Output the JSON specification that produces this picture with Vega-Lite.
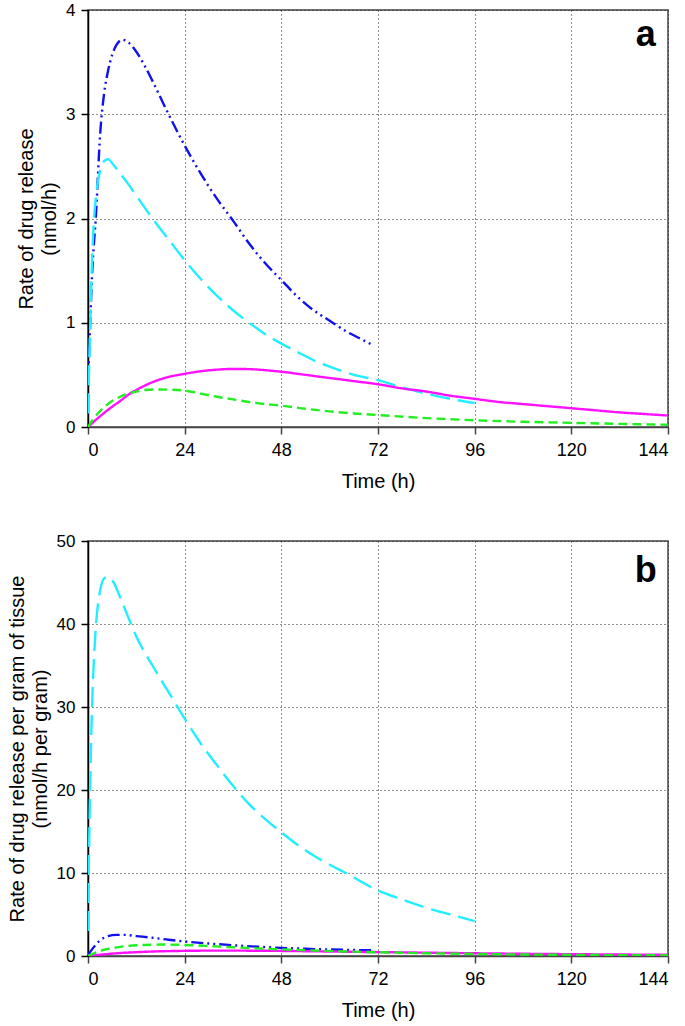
{
  "$schema": "https://vega.github.io/schema/vega-lite/v6.json",
  "padding": {"left": 6, "top": 0, "right": 5, "bottom": 2},
  "background": "white",
  "spacing": 39,
  "config": {
    "font": "Liberation Sans",
    "view": {"stroke": "#444", "strokeWidth": 1.5},
    "axis": {
      "labelFont": "Liberation Sans", "titleFont": "Liberation Sans",
      "labelFontSize": 18, "titleFontSize": 20, "titleFontWeight": "normal",
      "labelColor": "#000", "titleColor": "#000", "format": "d",
      "grid": true, "gridDash": [1, 3], "gridColor": "#222", "gridWidth": 1, "gridOpacity": 1,
      "tickSize": 7, "labelPadding": 6, "domainWidth": 1.5, "tickWidth": 1.5
    },
    "axisX": {"domainColor": "#444", "tickColor": "#444", "titlePadding": 12, "labelPadding": 7},
    "axisY": {"domainColor": "#000", "tickColor": "#000", "titlePadding": 6, "titleLineHeight": 23, "labelFontSize": 17}
  },
  "datasets": {
    "curves": [
      {"panel":"a","series":"B","t":0,"v":0.4},{"panel":"a","series":"B","t":0.5,"v":0.95},{"panel":"a","series":"B","t":1,"v":1.45},{"panel":"a","series":"B","t":2,"v":2.05},{"panel":"a","series":"B","t":3,"v":2.8},{"panel":"a","series":"B","t":4,"v":3.2},{"panel":"a","series":"B","t":5,"v":3.42},{"panel":"a","series":"B","t":6,"v":3.57},{"panel":"a","series":"B","t":7,"v":3.66},{"panel":"a","series":"B","t":8.5,"v":3.715},{"panel":"a","series":"B","t":10,"v":3.69},{"panel":"a","series":"B","t":12,"v":3.6},{"panel":"a","series":"B","t":14,"v":3.47},{"panel":"a","series":"B","t":16,"v":3.32},{"panel":"a","series":"B","t":18,"v":3.16},{"panel":"a","series":"B","t":20,"v":3.0},{"panel":"a","series":"B","t":24,"v":2.7},{"panel":"a","series":"B","t":28,"v":2.43},{"panel":"a","series":"B","t":32,"v":2.19},{"panel":"a","series":"B","t":36,"v":1.98},{"panel":"a","series":"B","t":40,"v":1.76},{"panel":"a","series":"B","t":44,"v":1.57},{"panel":"a","series":"B","t":48,"v":1.41},{"panel":"a","series":"B","t":52,"v":1.25},{"panel":"a","series":"B","t":56,"v":1.12},{"panel":"a","series":"B","t":60,"v":1.02},{"panel":"a","series":"B","t":64,"v":0.92},{"panel":"a","series":"B","t":68,"v":0.84},{"panel":"a","series":"B","t":71,"v":0.78},

      {"panel":"a","series":"C","t":0,"v":0.13},{"panel":"a","series":"C","t":0.5,"v":0.9},{"panel":"a","series":"C","t":1,"v":1.6},{"panel":"a","series":"C","t":1.5,"v":2.0},{"panel":"a","series":"C","t":2,"v":2.22},{"panel":"a","series":"C","t":3,"v":2.46},{"panel":"a","series":"C","t":4,"v":2.55},{"panel":"a","series":"C","t":5,"v":2.57},{"panel":"a","series":"C","t":6,"v":2.53},{"panel":"a","series":"C","t":8,"v":2.43},{"panel":"a","series":"C","t":10,"v":2.33},{"panel":"a","series":"C","t":12,"v":2.22},{"panel":"a","series":"C","t":16,"v":2.0},{"panel":"a","series":"C","t":20,"v":1.8},{"panel":"a","series":"C","t":24,"v":1.6},{"panel":"a","series":"C","t":28,"v":1.42},{"panel":"a","series":"C","t":32,"v":1.26},{"panel":"a","series":"C","t":36,"v":1.12},{"panel":"a","series":"C","t":40,"v":1.0},{"panel":"a","series":"C","t":44,"v":0.89},{"panel":"a","series":"C","t":48,"v":0.8},{"panel":"a","series":"C","t":52,"v":0.72},{"panel":"a","series":"C","t":56,"v":0.64},{"panel":"a","series":"C","t":60,"v":0.58},{"panel":"a","series":"C","t":66,"v":0.5},{"panel":"a","series":"C","t":72,"v":0.45},{"panel":"a","series":"C","t":78,"v":0.38},{"panel":"a","series":"C","t":84,"v":0.32},{"panel":"a","series":"C","t":90,"v":0.27},{"panel":"a","series":"C","t":96,"v":0.23},

      {"panel":"a","series":"M","t":0,"v":0},{"panel":"a","series":"M","t":2,"v":0.07},{"panel":"a","series":"M","t":4,"v":0.135},{"panel":"a","series":"M","t":6,"v":0.195},{"panel":"a","series":"M","t":8,"v":0.25},{"panel":"a","series":"M","t":10,"v":0.31},{"panel":"a","series":"M","t":12,"v":0.355},{"panel":"a","series":"M","t":16,"v":0.43},{"panel":"a","series":"M","t":20,"v":0.48},{"panel":"a","series":"M","t":24,"v":0.51},{"panel":"a","series":"M","t":28,"v":0.535},{"panel":"a","series":"M","t":32,"v":0.55},{"panel":"a","series":"M","t":36,"v":0.557},{"panel":"a","series":"M","t":40,"v":0.555},{"panel":"a","series":"M","t":44,"v":0.545},{"panel":"a","series":"M","t":48,"v":0.53},{"panel":"a","series":"M","t":54,"v":0.5},{"panel":"a","series":"M","t":60,"v":0.47},{"panel":"a","series":"M","t":66,"v":0.44},{"panel":"a","series":"M","t":72,"v":0.41},{"panel":"a","series":"M","t":78,"v":0.37},{"panel":"a","series":"M","t":84,"v":0.34},{"panel":"a","series":"M","t":90,"v":0.3},{"panel":"a","series":"M","t":96,"v":0.27},{"panel":"a","series":"M","t":102,"v":0.24},{"panel":"a","series":"M","t":108,"v":0.22},{"panel":"a","series":"M","t":114,"v":0.2},{"panel":"a","series":"M","t":120,"v":0.18},{"panel":"a","series":"M","t":126,"v":0.16},{"panel":"a","series":"M","t":132,"v":0.14},{"panel":"a","series":"M","t":138,"v":0.125},{"panel":"a","series":"M","t":144,"v":0.11},

      {"panel":"a","series":"G","t":0,"v":0},{"panel":"a","series":"G","t":1,"v":0.06},{"panel":"a","series":"G","t":2,"v":0.11},{"panel":"a","series":"G","t":4,"v":0.19},{"panel":"a","series":"G","t":6,"v":0.25},{"panel":"a","series":"G","t":8,"v":0.29},{"panel":"a","series":"G","t":10,"v":0.32},{"panel":"a","series":"G","t":12,"v":0.34},{"panel":"a","series":"G","t":14,"v":0.355},{"panel":"a","series":"G","t":17,"v":0.36},{"panel":"a","series":"G","t":20,"v":0.358},{"panel":"a","series":"G","t":24,"v":0.35},{"panel":"a","series":"G","t":28,"v":0.32},{"panel":"a","series":"G","t":32,"v":0.29},{"panel":"a","series":"G","t":36,"v":0.265},{"panel":"a","series":"G","t":40,"v":0.24},{"panel":"a","series":"G","t":44,"v":0.22},{"panel":"a","series":"G","t":48,"v":0.205},{"panel":"a","series":"G","t":54,"v":0.175},{"panel":"a","series":"G","t":60,"v":0.15},{"panel":"a","series":"G","t":66,"v":0.13},{"panel":"a","series":"G","t":72,"v":0.115},{"panel":"a","series":"G","t":84,"v":0.085},{"panel":"a","series":"G","t":96,"v":0.065},{"panel":"a","series":"G","t":108,"v":0.05},{"panel":"a","series":"G","t":120,"v":0.04},{"panel":"a","series":"G","t":132,"v":0.03},{"panel":"a","series":"G","t":144,"v":0.022},

      {"panel":"b","series":"C","t":0,"v":3},{"panel":"b","series":"C","t":0.3,"v":14},{"panel":"b","series":"C","t":0.6,"v":22},{"panel":"b","series":"C","t":1,"v":30},{"panel":"b","series":"C","t":1.5,"v":36},{"panel":"b","series":"C","t":2,"v":40},{"panel":"b","series":"C","t":3,"v":44},{"panel":"b","series":"C","t":4,"v":45.5},{"panel":"b","series":"C","t":5,"v":45.7},{"panel":"b","series":"C","t":6,"v":45.3},{"panel":"b","series":"C","t":8,"v":43.2},{"panel":"b","series":"C","t":10,"v":40.8},{"panel":"b","series":"C","t":12,"v":38.5},{"panel":"b","series":"C","t":16,"v":35},{"panel":"b","series":"C","t":20,"v":31.8},{"panel":"b","series":"C","t":24,"v":28.6},{"panel":"b","series":"C","t":28,"v":25.6},{"panel":"b","series":"C","t":32,"v":23},{"panel":"b","series":"C","t":36,"v":20.5},{"panel":"b","series":"C","t":40,"v":18.3},{"panel":"b","series":"C","t":44,"v":16.5},{"panel":"b","series":"C","t":48,"v":14.9},{"panel":"b","series":"C","t":52,"v":13.4},{"panel":"b","series":"C","t":56,"v":12.1},{"panel":"b","series":"C","t":60,"v":11.0},{"panel":"b","series":"C","t":64,"v":10.0},{"panel":"b","series":"C","t":68,"v":8.9},{"panel":"b","series":"C","t":72,"v":7.9},{"panel":"b","series":"C","t":78,"v":6.8},{"panel":"b","series":"C","t":84,"v":5.8},{"panel":"b","series":"C","t":90,"v":5.0},{"panel":"b","series":"C","t":96,"v":4.2},

      {"panel":"b","series":"B","t":0,"v":0.1},{"panel":"b","series":"B","t":1,"v":0.8},{"panel":"b","series":"B","t":2,"v":1.4},{"panel":"b","series":"B","t":3,"v":1.9},{"panel":"b","series":"B","t":4,"v":2.2},{"panel":"b","series":"B","t":5,"v":2.4},{"panel":"b","series":"B","t":7,"v":2.55},{"panel":"b","series":"B","t":9,"v":2.55},{"panel":"b","series":"B","t":12,"v":2.4},{"panel":"b","series":"B","t":16,"v":2.2},{"panel":"b","series":"B","t":20,"v":1.95},{"panel":"b","series":"B","t":24,"v":1.75},{"panel":"b","series":"B","t":30,"v":1.5},{"panel":"b","series":"B","t":36,"v":1.3},{"panel":"b","series":"B","t":42,"v":1.12},{"panel":"b","series":"B","t":48,"v":0.98},{"panel":"b","series":"B","t":54,"v":0.87},{"panel":"b","series":"B","t":60,"v":0.78},{"panel":"b","series":"B","t":66,"v":0.72},{"panel":"b","series":"B","t":71,"v":0.68},

      {"panel":"b","series":"M","t":0,"v":0},{"panel":"b","series":"M","t":4,"v":0.2},{"panel":"b","series":"M","t":8,"v":0.36},{"panel":"b","series":"M","t":12,"v":0.46},{"panel":"b","series":"M","t":16,"v":0.54},{"panel":"b","series":"M","t":24,"v":0.62},{"panel":"b","series":"M","t":32,"v":0.65},{"panel":"b","series":"M","t":40,"v":0.64},{"panel":"b","series":"M","t":48,"v":0.61},{"panel":"b","series":"M","t":60,"v":0.54},{"panel":"b","series":"M","t":72,"v":0.47},{"panel":"b","series":"M","t":84,"v":0.4},{"panel":"b","series":"M","t":96,"v":0.33},{"panel":"b","series":"M","t":108,"v":0.27},{"panel":"b","series":"M","t":120,"v":0.22},{"panel":"b","series":"M","t":132,"v":0.18},{"panel":"b","series":"M","t":144,"v":0.15},

      {"panel":"b","series":"G","t":0,"v":0},{"panel":"b","series":"G","t":2,"v":0.45},{"panel":"b","series":"G","t":4,"v":0.75},{"panel":"b","series":"G","t":6,"v":0.95},{"panel":"b","series":"G","t":8,"v":1.1},{"panel":"b","series":"G","t":10,"v":1.22},{"panel":"b","series":"G","t":14,"v":1.33},{"panel":"b","series":"G","t":18,"v":1.38},{"panel":"b","series":"G","t":24,"v":1.33},{"panel":"b","series":"G","t":30,"v":1.2},{"panel":"b","series":"G","t":36,"v":1.05},{"panel":"b","series":"G","t":42,"v":0.92},{"panel":"b","series":"G","t":48,"v":0.8},{"panel":"b","series":"G","t":60,"v":0.6},{"panel":"b","series":"G","t":72,"v":0.45},{"panel":"b","series":"G","t":84,"v":0.33},{"panel":"b","series":"G","t":96,"v":0.25},{"panel":"b","series":"G","t":108,"v":0.18},{"panel":"b","series":"G","t":120,"v":0.14},{"panel":"b","series":"G","t":132,"v":0.1},{"panel":"b","series":"G","t":144,"v":0.08}
    ]
  },
  "vconcat": [
    {
      "width": 580, "height": 417,
      "layer": [
        {
          "data": {"name": "curves"},
          "transform": [{"filter": "datum.panel == 'a'"}],
          "mark": {"type": "line", "strokeWidth": 2.4, "interpolate": "monotone", "clip": true},
          "encoding": {
            "x": {"field": "t", "type": "quantitative", "scale": {"domain": [0, 144], "nice": false},
                  "axis": {"values": [0, 24, 48, 72, 96, 120, 144], "title": "Time (h)"}},
            "y": {"field": "v", "type": "quantitative", "scale": {"domain": [0, 4], "nice": false},
                  "axis": {"values": [0, 1, 2, 3, 4], "title": ["Rate of drug release", "(nmol/h)"]}},
            "color": {"field": "series", "type": "nominal", "legend": null,
                      "scale": {"domain": ["G", "M", "C", "B"], "range": ["#22ee22", "#ff11ff", "#22eeff", "#1010f0"]}},
            "strokeDash": {"field": "series", "type": "nominal", "legend": null,
                      "scale": {"domain": ["G", "M", "C", "B"], "range": [[9, 5], [1, 0], [20, 8], [12, 4, 2, 4, 2, 4]]}},
            "order": {"field": "t", "type": "quantitative"}
          }
        },
        {
          "data": {"values": [{"label": "a"}]},
          "mark": {"type": "text", "fontSize": 36, "fontWeight": "bold", "align": "center", "baseline": "middle", "font": "Liberation Sans", "color": "#000"},
          "encoding": {
            "x": {"datum": 138.5, "type": "quantitative"},
            "y": {"datum": 3.76, "type": "quantitative"},
            "text": {"field": "label"}
          }
        }
      ]
    },
    {
      "width": 580, "height": 415,
      "layer": [
        {
          "data": {"name": "curves"},
          "transform": [{"filter": "datum.panel == 'b'"}],
          "mark": {"type": "line", "strokeWidth": 2.4, "interpolate": "monotone", "clip": true},
          "encoding": {
            "x": {"field": "t", "type": "quantitative", "scale": {"domain": [0, 144], "nice": false},
                  "axis": {"values": [0, 24, 48, 72, 96, 120, 144], "title": "Time (h)"}},
            "y": {"field": "v", "type": "quantitative", "scale": {"domain": [0, 50], "nice": false},
                  "axis": {"values": [0, 10, 20, 30, 40, 50], "title": ["Rate of drug release per gram of tissue", "(nmol/h per gram)"]}},
            "color": {"field": "series", "type": "nominal", "legend": null,
                      "scale": {"domain": ["G", "M", "C", "B"], "range": ["#22ee22", "#ff11ff", "#22eeff", "#1010f0"]}},
            "strokeDash": {"field": "series", "type": "nominal", "legend": null,
                      "scale": {"domain": ["G", "M", "C", "B"], "range": [[9, 5], [1, 0], [20, 8], [12, 4, 2, 4, 2, 4]]}},
            "order": {"field": "t", "type": "quantitative"}
          }
        },
        {
          "data": {"values": [{"label": "b"}]},
          "mark": {"type": "text", "fontSize": 36, "fontWeight": "bold", "align": "center", "baseline": "middle", "font": "Liberation Sans", "color": "#000"},
          "encoding": {
            "x": {"datum": 138.5, "type": "quantitative"},
            "y": {"datum": 46.4, "type": "quantitative"},
            "text": {"field": "label"}
          }
        }
      ]
    }
  ]
}
